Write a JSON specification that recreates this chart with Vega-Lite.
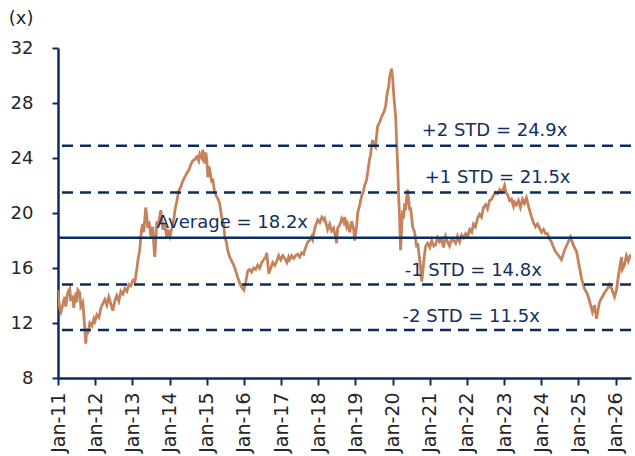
{
 "$schema": "https://vega.github.io/schema/vega-lite/v6.json",
 "width": 573,
 "height": 330,
 "autosize": "none",
 "padding": {"left": 58, "top": 48, "right": 4, "bottom": 78},
 "background": "white",
 "config": {"view": {"stroke": null}, "font": "DejaVu Sans"},
 "datasets": {
  "pe": [
{"d":"2011-01-01","v":14.4},{"d":"2011-01-10","v":13.5},{"d":"2011-01-20","v":13.0},{"d":"2011-01-30","v":12.8},{"d":"2011-02-19","v":13.4},{"d":"2011-03-09","v":13.9},{"d":"2011-03-18","v":13.2},{"d":"2011-04-07","v":14.2},{"d":"2011-04-27","v":14.5},{"d":"2011-05-06","v":13.6},{"d":"2011-05-26","v":14.0},{"d":"2011-06-05","v":13.1},{"d":"2011-06-25","v":14.2},{"d":"2011-07-04","v":13.5},{"d":"2011-07-14","v":14.4},{"d":"2011-08-03","v":14.2},{"d":"2011-08-13","v":13.2},{"d":"2011-09-02","v":13.5},{"d":"2011-09-12","v":12.5},{"d":"2011-09-22","v":11.5},{"d":"2011-10-01","v":10.5},{"d":"2011-10-11","v":11.6},{"d":"2011-10-21","v":11.2},{"d":"2011-11-10","v":12.0},{"d":"2011-11-30","v":11.8},{"d":"2011-12-19","v":12.3},{"d":"2011-12-29","v":12.1},
{"d":"2012-01-18","v":12.6},{"d":"2012-02-07","v":12.4},{"d":"2012-02-27","v":13.1},{"d":"2012-03-16","v":13.4},{"d":"2012-04-05","v":13.7},{"d":"2012-04-25","v":13.3},{"d":"2012-05-14","v":13.9},{"d":"2012-06-03","v":13.4},{"d":"2012-06-23","v":12.9},{"d":"2012-07-12","v":13.6},{"d":"2012-08-01","v":14.0},{"d":"2012-08-21","v":13.6},{"d":"2012-09-10","v":14.3},{"d":"2012-09-30","v":14.1},{"d":"2012-10-19","v":14.5},{"d":"2012-11-08","v":14.3},{"d":"2012-11-28","v":14.8},{"d":"2012-12-17","v":14.7},
{"d":"2013-01-06","v":15.1},{"d":"2013-01-26","v":15.0},{"d":"2013-02-15","v":16.0},{"d":"2013-02-25","v":16.6},{"d":"2013-03-14","v":17.3},{"d":"2013-03-24","v":18.2},{"d":"2013-04-03","v":18.9},{"d":"2013-04-13","v":19.2},{"d":"2013-04-23","v":18.6},{"d":"2013-05-02","v":19.5},{"d":"2013-05-12","v":20.4},{"d":"2013-05-22","v":19.8},{"d":"2013-06-01","v":18.9},{"d":"2013-06-11","v":19.4},{"d":"2013-06-21","v":19.0},{"d":"2013-07-01","v":18.3},{"d":"2013-07-20","v":19.0},{"d":"2013-07-30","v":17.7},{"d":"2013-08-09","v":16.8},{"d":"2013-08-19","v":18.0},{"d":"2013-08-29","v":19.4},{"d":"2013-09-08","v":19.0},{"d":"2013-09-28","v":19.8},{"d":"2013-10-07","v":20.2},{"d":"2013-10-17","v":19.5},{"d":"2013-10-27","v":18.8},{"d":"2013-11-16","v":19.2},{"d":"2013-12-05","v":18.2},{"d":"2013-12-15","v":18.8},
{"d":"2014-01-05","v":18.3},{"d":"2014-01-24","v":18.9},{"d":"2014-02-13","v":19.6},{"d":"2014-02-23","v":20.2},{"d":"2014-03-12","v":20.8},{"d":"2014-04-01","v":21.6},{"d":"2014-04-21","v":21.9},{"d":"2014-05-10","v":22.3},{"d":"2014-05-30","v":22.6},{"d":"2014-06-19","v":22.9},{"d":"2014-07-08","v":23.1},{"d":"2014-07-28","v":23.5},{"d":"2014-08-17","v":23.8},{"d":"2014-09-06","v":23.9},{"d":"2014-09-26","v":24.1},{"d":"2014-10-15","v":23.8},{"d":"2014-10-25","v":24.3},{"d":"2014-11-14","v":24.0},{"d":"2014-11-24","v":24.6},{"d":"2014-12-13","v":23.6},{"d":"2014-12-23","v":24.4},
{"d":"2015-01-02","v":23.9},{"d":"2015-01-12","v":22.6},{"d":"2015-01-22","v":23.4},{"d":"2015-02-01","v":23.1},{"d":"2015-02-21","v":22.2},{"d":"2015-03-01","v":22.5},{"d":"2015-03-20","v":21.5},{"d":"2015-04-09","v":21.2},{"d":"2015-04-29","v":20.9},{"d":"2015-05-08","v":20.7},{"d":"2015-05-28","v":19.7},{"d":"2015-06-17","v":19.2},{"d":"2015-06-27","v":18.3},{"d":"2015-07-16","v":17.8},{"d":"2015-07-26","v":17.3},{"d":"2015-08-15","v":16.8},{"d":"2015-09-04","v":16.5},{"d":"2015-09-24","v":16.2},{"d":"2015-10-13","v":15.8},{"d":"2015-11-02","v":15.3},{"d":"2015-11-22","v":14.9},{"d":"2015-12-11","v":14.6},
{"d":"2016-01-01","v":14.4},{"d":"2016-01-20","v":15.0},{"d":"2016-02-09","v":15.8},{"d":"2016-02-28","v":15.9},{"d":"2016-03-18","v":15.7},{"d":"2016-04-07","v":16.0},{"d":"2016-04-27","v":15.9},{"d":"2016-05-16","v":16.2},{"d":"2016-06-05","v":16.0},{"d":"2016-06-25","v":16.4},{"d":"2016-07-14","v":16.6},{"d":"2016-08-03","v":16.8},{"d":"2016-08-13","v":17.1},{"d":"2016-09-02","v":15.6},{"d":"2016-09-22","v":16.0},{"d":"2016-10-11","v":16.4},{"d":"2016-11-01","v":16.2},{"d":"2016-11-20","v":16.5},{"d":"2016-12-09","v":16.9},{"d":"2016-12-29","v":16.6},
{"d":"2017-01-18","v":16.9},{"d":"2017-02-07","v":16.7},{"d":"2017-02-27","v":16.4},{"d":"2017-03-16","v":16.8},{"d":"2017-03-26","v":16.6},{"d":"2017-04-15","v":16.9},{"d":"2017-05-05","v":16.7},{"d":"2017-05-24","v":16.9},{"d":"2017-06-13","v":17.0},{"d":"2017-07-03","v":16.8},{"d":"2017-07-22","v":17.1},{"d":"2017-08-11","v":17.0},{"d":"2017-08-21","v":17.3},{"d":"2017-09-10","v":17.7},{"d":"2017-09-20","v":17.9},{"d":"2017-10-09","v":18.0},{"d":"2017-10-29","v":18.3},{"d":"2017-11-08","v":18.1},{"d":"2017-11-28","v":18.9},{"d":"2017-12-17","v":19.3},{"d":"2017-12-27","v":19.5},
{"d":"2018-01-16","v":19.3},{"d":"2018-02-05","v":19.7},{"d":"2018-02-25","v":19.5},{"d":"2018-03-05","v":19.6},{"d":"2018-03-24","v":19.1},{"d":"2018-04-03","v":18.8},{"d":"2018-04-23","v":19.2},{"d":"2018-05-12","v":18.7},{"d":"2018-06-01","v":18.9},{"d":"2018-06-21","v":18.2},{"d":"2018-07-01","v":17.8},{"d":"2018-07-10","v":18.9},{"d":"2018-07-30","v":19.1},{"d":"2018-08-19","v":19.6},{"d":"2018-09-08","v":19.3},{"d":"2018-09-18","v":19.7},{"d":"2018-10-07","v":19.0},{"d":"2018-10-17","v":19.2},{"d":"2018-11-06","v":18.6},{"d":"2018-11-26","v":19.4},{"d":"2018-12-15","v":18.8},{"d":"2018-12-25","v":18.0},
{"d":"2019-01-14","v":19.1},{"d":"2019-01-24","v":20.0},{"d":"2019-02-13","v":20.6},{"d":"2019-03-02","v":21.2},{"d":"2019-03-22","v":21.6},{"d":"2019-04-01","v":22.0},{"d":"2019-04-21","v":22.4},{"d":"2019-05-01","v":22.9},{"d":"2019-05-20","v":23.9},{"d":"2019-05-30","v":24.2},{"d":"2019-06-09","v":24.9},{"d":"2019-06-19","v":25.3},{"d":"2019-06-29","v":25.0},{"d":"2019-07-18","v":24.8},{"d":"2019-07-28","v":25.6},{"d":"2019-08-07","v":26.3},{"d":"2019-08-27","v":26.6},{"d":"2019-09-16","v":27.0},{"d":"2019-10-05","v":27.3},{"d":"2019-10-15","v":27.5},{"d":"2019-10-25","v":27.8},{"d":"2019-11-04","v":28.4},{"d":"2019-11-14","v":28.9},{"d":"2019-11-24","v":29.2},{"d":"2019-12-03","v":29.9},{"d":"2019-12-13","v":30.2},{"d":"2019-12-23","v":30.5},
{"d":"2020-01-02","v":29.8},{"d":"2020-01-12","v":28.7},{"d":"2020-01-22","v":27.8},{"d":"2020-02-01","v":27.0},{"d":"2020-02-11","v":25.0},{"d":"2020-02-21","v":23.3},{"d":"2020-03-01","v":21.2},{"d":"2020-03-10","v":19.7},{"d":"2020-03-20","v":17.3},{"d":"2020-03-30","v":18.8},{"d":"2020-04-09","v":20.2},{"d":"2020-04-19","v":19.6},{"d":"2020-04-29","v":20.7},{"d":"2020-05-08","v":20.2},{"d":"2020-05-18","v":21.0},{"d":"2020-05-28","v":21.7},{"d":"2020-06-07","v":21.0},{"d":"2020-06-17","v":20.2},{"d":"2020-06-27","v":20.4},{"d":"2020-07-16","v":19.0},{"d":"2020-08-05","v":18.6},{"d":"2020-08-25","v":17.5},{"d":"2020-09-04","v":17.8},{"d":"2020-09-24","v":16.6},{"d":"2020-10-03","v":16.0},{"d":"2020-10-13","v":15.0},{"d":"2020-10-23","v":15.6},{"d":"2020-11-02","v":16.4},{"d":"2020-11-12","v":17.1},{"d":"2020-11-22","v":17.6},{"d":"2020-12-11","v":17.8},
{"d":"2021-01-01","v":17.5},{"d":"2021-01-20","v":18.0},{"d":"2021-02-09","v":17.6},{"d":"2021-02-28","v":17.7},{"d":"2021-03-18","v":18.2},{"d":"2021-04-07","v":17.9},{"d":"2021-04-27","v":18.1},{"d":"2021-05-16","v":17.5},{"d":"2021-06-05","v":18.3},{"d":"2021-06-25","v":17.9},{"d":"2021-07-14","v":17.6},{"d":"2021-08-03","v":18.1},{"d":"2021-08-23","v":18.0},{"d":"2021-09-12","v":17.8},{"d":"2021-10-01","v":18.3},{"d":"2021-10-21","v":17.9},{"d":"2021-11-10","v":18.4},{"d":"2021-11-30","v":18.2},{"d":"2021-12-19","v":18.5},
{"d":"2022-01-08","v":18.3},{"d":"2022-01-28","v":18.8},{"d":"2022-02-17","v":18.6},{"d":"2022-03-06","v":19.2},{"d":"2022-03-26","v":19.0},{"d":"2022-04-15","v":19.6},{"d":"2022-05-05","v":19.9},{"d":"2022-05-24","v":19.7},{"d":"2022-06-13","v":20.4},{"d":"2022-07-03","v":20.6},{"d":"2022-07-22","v":20.3},{"d":"2022-08-11","v":20.9},{"d":"2022-09-01","v":21.0},{"d":"2022-09-20","v":21.3},{"d":"2022-10-09","v":21.5},{"d":"2022-10-29","v":21.4},{"d":"2022-11-18","v":21.7},{"d":"2022-12-07","v":21.5},{"d":"2022-12-27","v":21.8},
{"d":"2023-01-06","v":22.0},{"d":"2023-01-16","v":21.6},{"d":"2023-02-05","v":21.3},{"d":"2023-02-25","v":20.9},{"d":"2023-03-14","v":21.0},{"d":"2023-04-03","v":20.5},{"d":"2023-04-13","v":20.8},{"d":"2023-05-02","v":20.6},{"d":"2023-05-22","v":20.9},{"d":"2023-06-11","v":20.4},{"d":"2023-07-01","v":21.0},{"d":"2023-07-20","v":20.7},{"d":"2023-08-09","v":21.1},{"d":"2023-08-19","v":20.8},{"d":"2023-09-08","v":20.2},{"d":"2023-09-28","v":19.7},{"d":"2023-10-17","v":19.3},{"d":"2023-11-06","v":19.0},{"d":"2023-11-26","v":19.2},{"d":"2023-12-15","v":18.9},
{"d":"2024-01-04","v":18.6},{"d":"2024-01-24","v":18.8},{"d":"2024-02-13","v":18.5},{"d":"2024-03-02","v":18.5},{"d":"2024-03-22","v":18.1},{"d":"2024-04-11","v":17.9},{"d":"2024-05-01","v":17.5},{"d":"2024-05-20","v":17.2},{"d":"2024-06-09","v":17.0},{"d":"2024-06-29","v":16.8},{"d":"2024-07-18","v":16.6},{"d":"2024-08-17","v":17.3},{"d":"2024-09-16","v":17.8},{"d":"2024-10-15","v":18.25},{"d":"2024-11-14","v":17.6},{"d":"2024-12-13","v":17.2},
{"d":"2025-01-12","v":16.0},{"d":"2025-02-01","v":15.2},{"d":"2025-03-01","v":14.5},{"d":"2025-03-30","v":14.1},{"d":"2025-04-19","v":13.6},{"d":"2025-05-18","v":12.8},{"d":"2025-06-07","v":13.3},{"d":"2025-06-27","v":12.3},{"d":"2025-07-26","v":13.5},{"d":"2025-08-15","v":13.8},{"d":"2025-09-14","v":14.2},{"d":"2025-10-13","v":14.5},{"d":"2025-11-02","v":14.8},{"d":"2025-11-22","v":14.5},{"d":"2025-12-21","v":13.9},
{"d":"2026-01-10","v":14.4},{"d":"2026-01-20","v":15.0},{"d":"2026-02-09","v":16.0},{"d":"2026-02-28","v":16.8},{"d":"2026-03-08","v":15.9},{"d":"2026-03-28","v":16.2},{"d":"2026-04-17","v":16.9},{"d":"2026-05-06","v":16.5},{"d":"2026-05-20","v":16.8},{"d":"2026-05-31","v":17.0}
  ],
  "levels": [
   {"kind": "std", "v": 24.9},
   {"kind": "std", "v": 21.5},
   {"kind": "avg", "v": 18.2},
   {"kind": "std", "v": 14.8},
   {"kind": "std", "v": 11.5}
  ],
  "labels": [
   {"t": "+2 STD = 24.9x", "d": "2020-10-13", "v": 25.6},
   {"t": "+1 STD = 21.5x", "d": "2020-11-12", "v": 22.18},
   {"t": "Average  = 18.2x", "d": "2013-08-29", "v": 18.91},
   {"t": "-1 STD = 14.8x", "d": "2020-04-29", "v": 15.42},
   {"t": "-2 STD = 11.5x", "d": "2020-04-09", "v": 12.07}
  ]
 },
 "layer": [
  {
   "data": {"name": "pe"},
   "mark": {"type": "line", "color": "#C6825A", "strokeWidth": 2.8, "clip": true},
   "encoding": {
    "x": {
     "field": "d", "type": "temporal",
     "scale": {"domain": [{"year": 2011, "month": 1, "date": 1}, {"year": 2026, "month": 6, "date": 1}]},
     "axis": {
      "title": null, "format": "%b-%y", "tickCount": {"interval": "year", "step": 1},
      "labelAngle": -90, "labelAlign": "right", "labelBaseline": "middle",
      "labelFontSize": 19, "labelColor": "#262626", "labelPadding": 7,
      "tickSize": 7, "tickWidth": 2, "tickColor": "#0B2C5F",
      "domainColor": "#0B2C5F", "domainWidth": 2.5, "grid": false,
      "labelFlush": false, "labelOverlap": false
     }
    },
    "y": {
     "field": "v", "type": "quantitative",
     "scale": {"domain": [8, 32], "nice": false, "zero": false},
     "axis": {
      "title": "(x)", "titleAngle": 0, "titleAlign": "right", "titleBaseline": "middle",
      "titleX": -25, "titleY": -30, "titleFontSize": 18, "titleFontWeight": "normal", "titleColor": "#262626",
      "values": [8, 12, 16, 20, 24, 28, 32],
      "labelFontSize": 18, "labelColor": "#262626", "labelPadding": 19,
      "tickSize": 6, "tickWidth": 2, "tickColor": "#0B2C5F",
      "domainColor": "#0B2C5F", "domainWidth": 2.5, "grid": false
     }
    }
   }
  },
  {
   "data": {"name": "levels"},
   "transform": [{"filter": "datum.kind == 'std'"}],
   "mark": {"type": "rule", "color": "#0B2C5F", "strokeWidth": 2.5, "strokeDash": [11, 7]},
   "encoding": {"y": {"field": "v", "type": "quantitative"}}
  },
  {
   "data": {"name": "levels"},
   "transform": [{"filter": "datum.kind == 'avg'"}],
   "mark": {"type": "rule", "color": "#0B2C5F", "strokeWidth": 2.5},
   "encoding": {"y": {"field": "v", "type": "quantitative"}}
  },
  {
   "data": {"name": "labels"},
   "mark": {"type": "text", "align": "left", "baseline": "alphabetic", "fontSize": 18, "color": "#12305F"},
   "encoding": {
    "x": {"field": "d", "type": "temporal"},
    "y": {"field": "v", "type": "quantitative"},
    "text": {"field": "t"}
   }
  }
 ]
}
